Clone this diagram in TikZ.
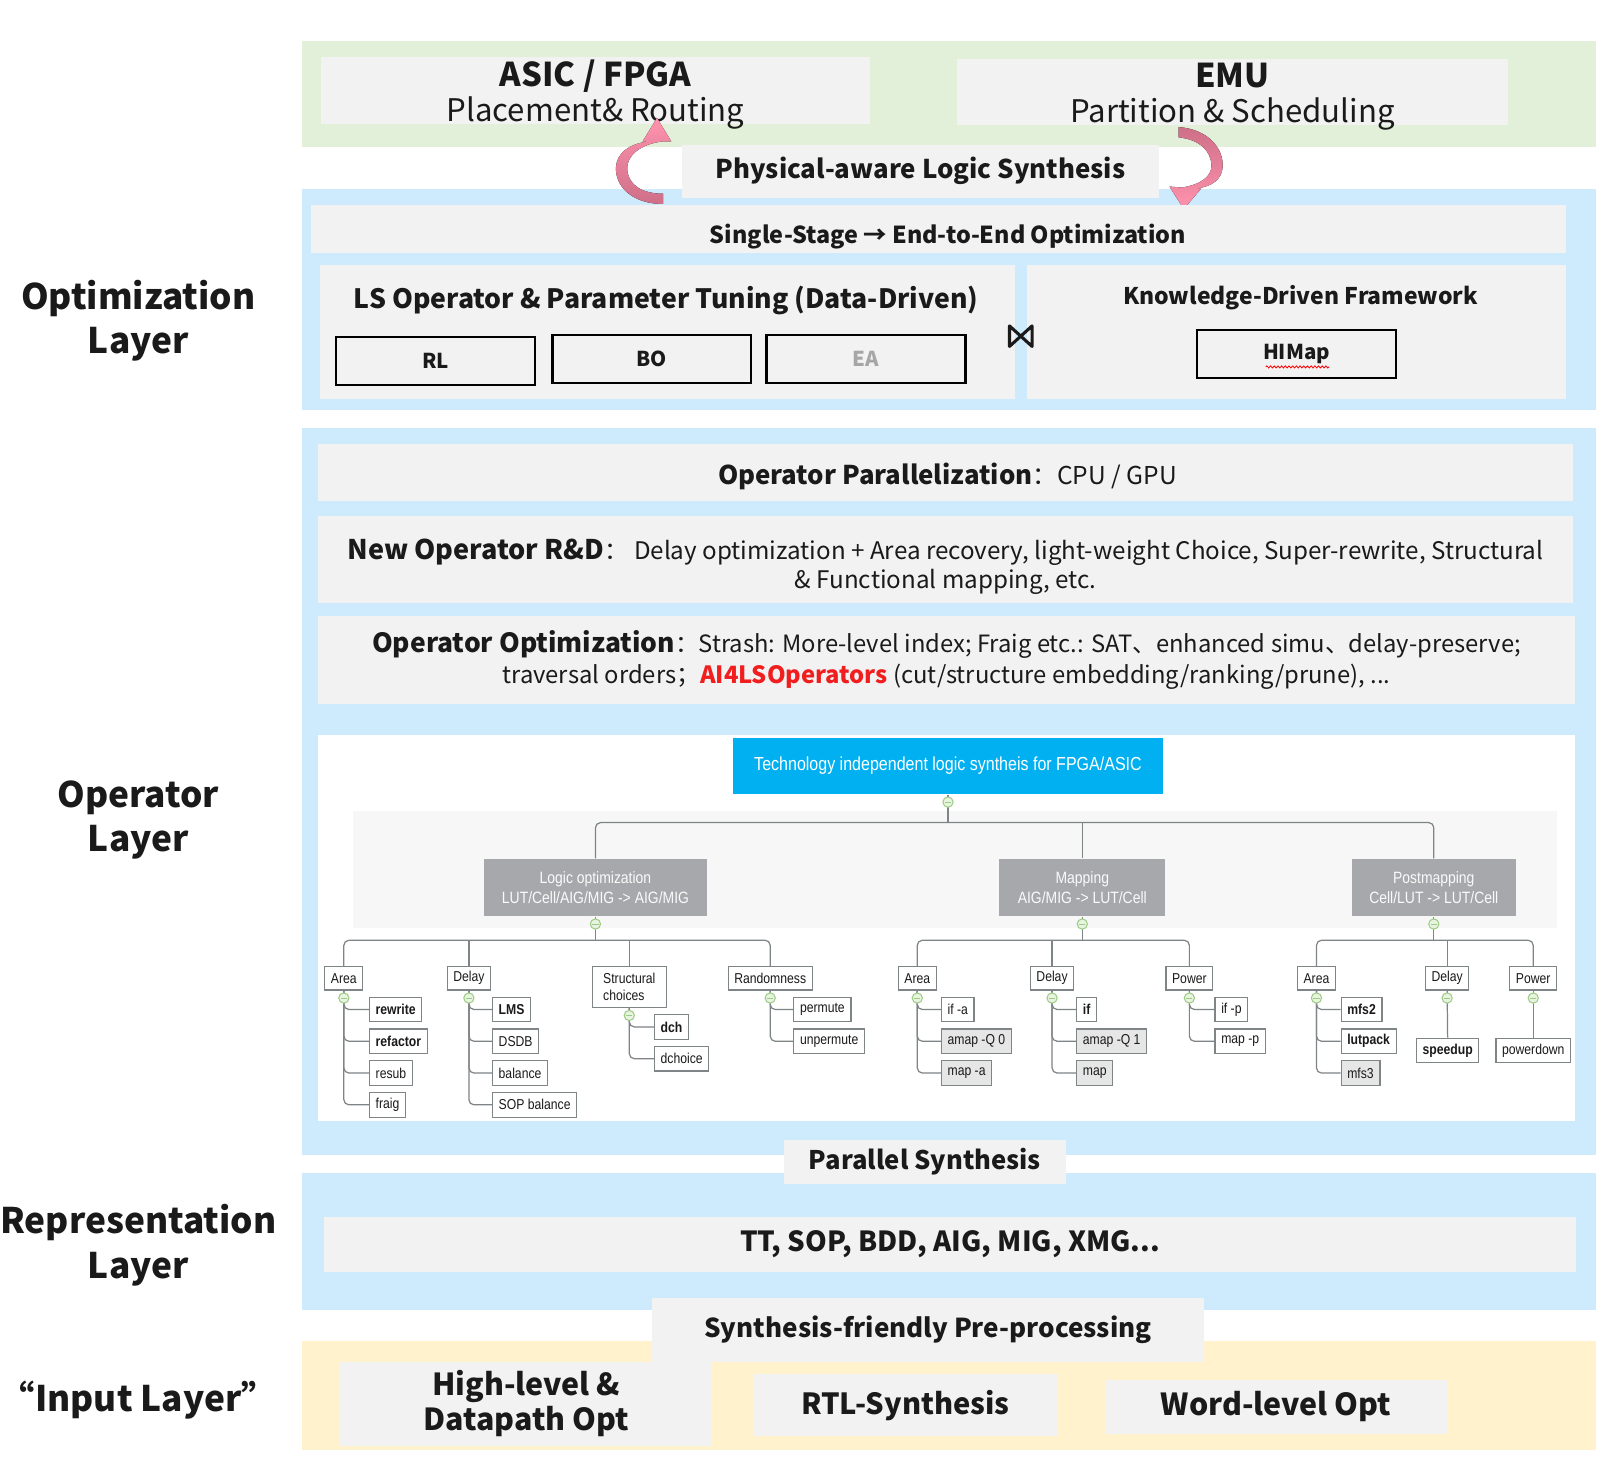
\documentclass[tikz,border=0pt]{standalone}
\usepackage{fontspec}
\setmainfont{Noto Sans CJK SC}
\newfontfamily\narrowfont{Liberation Sans}[FakeStretch=0.85]
\usepackage{xcolor}
\usepackage{tikz}
\usetikzlibrary{decorations.pathmorphing}

\definecolor{ink}{HTML}{1A1A1A}
\definecolor{boxgray}{HTML}{F2F2F2}
\definecolor{greenband}{HTML}{E2F0D9}
\definecolor{blueband}{HTML}{CDEBFC}
\definecolor{yellowband}{HTML}{FFF2CC}
\definecolor{rootblue}{HTML}{00B0F0}
\definecolor{midgray}{HTML}{A6A8AB}
\definecolor{treeband}{HTML}{F7F7F7}
\definecolor{linegray}{HTML}{7F8487}
\definecolor{leafgray}{HTML}{E6E6E6}
\definecolor{knobgreen}{HTML}{9CCB86}
\definecolor{knobfill}{HTML}{E8F4E0}
\definecolor{pinkdark}{HTML}{CF6F88}
\definecolor{pinklight}{HTML}{FF93AE}
\definecolor{aired}{HTML}{F01E1E}

\tikzset{
  every node/.style={text=ink},
  panel/.style={fill=boxgray, inner sep=0pt, align=center},
  algo/.style={draw=black, line width=1.1pt, fill=boxgray, inner sep=0pt, minimum width=97pt, minimum height=23.5pt, font=\fontsize{10pt}{12pt}\selectfont\bfseries},
  layerlabel/.style={align=center, font=\fontsize{17.2pt}{21.5pt}\selectfont\bfseries},
  treeroot/.style={fill=rootblue, text=white, inner sep=0pt, minimum width=210pt, minimum height=27.5pt, font=\narrowfont\fontsize{9.2pt}{10pt}\selectfont},
  treemid/.style={fill=midgray, text=white!96!gray, align=center, inner sep=0pt, minimum height=28pt, font=\narrowfont\fontsize{8pt}{9.6pt}\selectfont},
  cat/.style={draw=linegray, line width=0.6pt, fill=white, inner xsep=3pt, inner ysep=0pt, minimum height=11.5pt, font=\narrowfont\fontsize{7pt}{8.6pt}\selectfont},
  leaf/.style={cat, anchor=west, minimum height=12pt},
  leafb/.style={leaf, font=\narrowfont\bfseries\fontsize{7pt}{8.6pt}\selectfont},
  leafg/.style={leaf, fill=leafgray},
  conn/.style={draw=linegray, line width=0.6pt, rounded corners=2.5pt},
  knob/.style={circle, draw=knobgreen, fill=knobfill, line width=0.5pt, minimum size=5pt, inner sep=0pt,
    path picture={\draw[knobgreen, line width=0.5pt] ([xshift=-1.5pt]path picture bounding box.center) -- ([xshift=1.5pt]path picture bounding box.center);}},
}

\begin{document}
\begin{tikzpicture}[x=0.5pt,y=-0.5pt]
\useasboundingbox (0,0) rectangle (1568,1436);

% bands
\fill[greenband] (295,40) rectangle (1557,143);
\fill[blueband] (295,184) rectangle (1557,400);
\fill[blueband] (295,418) rectangle (1557,1127);
\fill[blueband] (295,1145) rectangle (1557,1278);
\fill[yellowband] (295,1308) rectangle (1557,1415);

% layer names
\node[layerlabel] (optlabel) at (135,313) {Optimization\\Layer};
\node[layerlabel] (oplabel) at (135,800) {Operator\\Layer};
\node[layerlabel] (replabel) at (135,1215) {Representation\\Layer};
\node[layerlabel] (inlabel) at (135,1366) {“Input Layer”};

% physical targets
\node[panel, minimum width=268pt, minimum height=32.5pt] (asic) at (581,88.5) {};
\node[align=center, font=\fontsize{15.2pt}{17pt}\selectfont] (asictext) at (581,92) {{\fontsize{16pt}{17pt}\selectfont\bfseries ASIC / FPGA}\\Placement\& Routing};
\node[panel, minimum width=268.5pt, minimum height=32pt] (emu) at (1202.5,90) {};
\node[align=center, font=\fontsize{15.2pt}{17pt}\selectfont] (emutext) at (1202.5,94) {{\fontsize{16pt}{17pt}\selectfont\bfseries EMU}\\Partition \& Scheduling};
\node[panel, minimum width=233pt, minimum height=26pt, font=\fontsize{12.6pt}{15pt}\selectfont\bfseries] (phys) at (898,167) {Physical-aware Logic Synthesis};

% curved arrows
\fill[top color=pinklight, bottom color=pinkdark]
  (647,199) .. controls (617,199) and (600,182) .. (601,163)
  .. controls (602,150) and (612,141) .. (632,138)
  -- (627,138) -- (641,115) -- (655,138) -- (646,138)
  .. controls (624,141) and (612,152) .. (612,164)
  .. controls (612,180) and (626,189) .. (647,189) -- cycle;
\fill[top color=pinkdark, bottom color=pinklight]
  (1150,124) .. controls (1178,126) and (1194,144) .. (1193,163)
  .. controls (1192,175) and (1183,182) .. (1167,184)
  -- (1172,184) -- (1155,204) -- (1141,182) -- (1153,183)
  .. controls (1172,180) and (1182,172) .. (1182,162)
  .. controls (1182,147) and (1170,136) .. (1150,134) -- cycle;

% optimization layer
\node[panel, minimum width=612.5pt, minimum height=23.5pt] (single) at (915.5,223.5) {};
\node[font=\fontsize{11.4pt}{14pt}\selectfont\bfseries] (singletext) at (925,231) {Single-Stage → End-to-End Optimization};
\node[panel, minimum width=339pt, minimum height=65pt] (ls) at (651,324) {};
\node[font=\fontsize{13pt}{16pt}\selectfont\bfseries] (lstitle) at (650,293) {LS Operator \& Parameter Tuning (Data-Driven)};
\node[algo] (rl) at (425,352.5) {RL};
\node[algo] (bo) at (636,350.5) {BO};
\node[algo, text=black!35] (ea) at (845,350.5) {EA};
\node[panel, minimum width=263pt, minimum height=65pt] (kd) at (1265,324) {};
\node[font=\fontsize{11.2pt}{14pt}\selectfont\bfseries] (kdtitle) at (1269,290) {Knowledge-Driven Framework};
\node[algo] (himap) at (1265,345.5) {HIMap};
\draw[red, line width=0.4pt, decorate, decoration={snake, amplitude=0.5pt, segment length=1.8pt}] (1235,358) -- (1297,358);
\draw[ink, line width=1.5pt, line join=round, line cap=round] (985,318) -- (985,338) -- (1007,318) -- (1007,338) -- cycle;

% operator layer
\node[panel, minimum width=612.5pt, minimum height=28pt] (par) at (922.5,461) {};
\node[font=\fontsize{12pt}{14pt}\selectfont] (partext) at (924.5,465)
  {{\fontsize{12.6pt}{14pt}\selectfont\bfseries Operator Parallelization}：CPU / GPU};
\node[panel, minimum width=612.5pt, minimum height=42.5pt] (newop) at (922.5,545.5) {};
\node[align=center, font=\fontsize{11.8pt}{14.5pt}\selectfont] (newoptext) at (922.5,553)
  {{\fontsize{13.2pt}{14.5pt}\selectfont\bfseries New Operator R\&D}：\ Delay optimization + Area recovery, light-weight Choice, Super-rewrite, Structural\\\& Functional mapping, etc.};
\node[panel, minimum width=613.5pt, minimum height=42.5pt, font=\fontsize{11.6pt}{15pt}\selectfont] (opopt) at (923.5,644)
  {{\fontsize{12.9pt}{15pt}\selectfont\bfseries Operator Optimization}：Strash: More-level index; Fraig etc.: SAT、enhanced simu、delay-preserve;\\traversal orders；{\bfseries\color{aired}AI4LSOperators} (cut/structure embedding/ranking/prune), ...};

% ABC operator tree
\fill[white] (310,717) rectangle (1537,1094);
\fill[treeband] (344,791) rectangle (1519,905);
\node[treeroot] (root) at (925,747.5) {Technology independent logic syntheis for FPGA/ASIC};
\node[treemid, minimum width=109pt] (logic) at (581,866) {Logic optimization\\LUT/Cell/AIG/MIG -> AIG/MIG};
\node[treemid, minimum width=81pt] (mapping) at (1056,866) {Mapping\\AIG/MIG -> LUT/Cell};
\node[treemid, minimum width=80pt] (postmap) at (1399,866) {Postmapping\\Cell/LUT -> LUT/Cell};

\node[cat] (area1) at (335.5,954.5) {Area};
\node[cat] (delay1) at (457.5,954.5) {Delay};
\node[cat, align=left, minimum height=20pt, minimum width=36pt] (struct) at (614,963) {Structural\\choices};
\node[cat] (random) at (751.5,954.5) {Randomness};
\node[cat] (area2) at (895,954.5) {Area};
\node[cat] (delay2) at (1026.5,954.5) {Delay};
\node[cat] (power2) at (1160.5,954.5) {Power};
\node[cat] (area3) at (1284.5,954.5) {Area};
\node[cat] (delay3) at (1412,954.5) {Delay};
\node[cat] (power3) at (1496,954.5) {Power};

\node[leafb] (rewrite) at (360,985) {rewrite};
\node[leafb] (refactor) at (360,1016) {refactor};
\node[leaf] (resub) at (360,1047) {resub};
\node[leaf] (fraig) at (360,1078) {fraig};
\node[leafb] (lms) at (480,985) {LMS};
\node[leaf] (dsdb) at (480,1016) {DSDB};
\node[leaf] (balance) at (480,1047) {balance};
\node[leaf] (sopbal) at (480,1078) {SOP balance};
\node[leafb] (dch) at (638,1002) {dch};
\node[leaf] (dchoice) at (638,1033) {dchoice};
\node[leaf] (permute) at (774,985) {permute};
\node[leaf] (unpermute) at (774,1016) {unpermute};
\node[leaf] (ifa) at (918,985) {if -a};
\node[leafg] (amapa) at (918,1016) {amap -Q 0};
\node[leafg] (mapa) at (918,1047) {map -a};
\node[leafb] (ifd) at (1050,985) {if};
\node[leafg] (amapd) at (1050,1016) {amap -Q 1};
\node[leafg] (mapd) at (1050,1047) {map};
\node[leaf] (ifp) at (1185,985) {if -p};
\node[leaf] (mapp) at (1185,1016) {map -p};
\node[leafb] (mfstwo) at (1308,985) {mfs2};
\node[leafb] (lutpack) at (1308,1016) {lutpack};
\node[leafg] (mfsthree) at (1308,1047) {mfs3};
\node[cat, font=\narrowfont\bfseries\fontsize{7pt}{8.6pt}\selectfont, minimum height=12pt] (speedup) at (1412.5,1025) {speedup};
\node[cat, minimum height=12pt] (powerdown) at (1496,1025) {powerdown};

\draw[conn] (logic.north) -- ++(0,-35) -| (postmap.north);
\draw[conn] (root.south) -- ++(0,28);
\draw[conn] (mapping.north) -- ++(0,-35);
\draw[conn] (area1.north) -- ++(0,-25) -| (random.north);
\draw[conn] (delay1.north) -- ++(0,-25);
\draw[conn] (struct.north) -- ++(0,-25);
\draw[conn] (logic.south) -- ++(0,24);
\draw[conn] (area2.north) -- ++(0,-25) -| (power2.north);
\draw[conn] (delay2.north) -- ++(0,-25);
\draw[conn] (mapping.south) -- ++(0,24);
\draw[conn] (area3.north) -- ++(0,-25) -| (power3.north);
\draw[conn] (delay3.north) -- ++(0,-25);
\draw[conn] (postmap.south) -- ++(0,24);
\foreach \p/\c in {area1/rewrite, area1/refactor, area1/resub, area1/fraig,
                   delay1/lms, delay1/dsdb, delay1/balance, delay1/sopbal,
                   struct/dch, struct/dchoice, random/permute, random/unpermute,
                   area2/ifa, area2/amapa, area2/mapa, delay2/ifd, delay2/amapd, delay2/mapd,
                   power2/ifp, power2/mapp, area3/mfstwo, area3/lutpack, area3/mfsthree}
  \draw[conn] (\p.south) |- (\c.west);
\draw[conn] (delay3.south) -- (speedup.north);
\draw[conn] (power3.south) -- (powerdown.north);
\foreach \n in {root,logic,mapping,postmap,area1,delay1,struct,random,area2,delay2,power2,area3,delay3,power3}
  \node[knob] (\n-k) at ([yshift=-3.6pt]\n.south) {};

% lower layers
\node[panel, minimum width=137.5pt, minimum height=21.5pt, font=\fontsize{12.5pt}{15pt}\selectfont\bfseries] (parsyn) at (902.5,1133.5) {Parallel Synthesis};
\node[panel, minimum width=611pt, minimum height=27pt, font=\fontsize{13.5pt}{16pt}\selectfont\bfseries] (tt) at (927,1214) {TT, SOP, BDD, AIG, MIG, XMG...};
\node[panel, minimum width=269.5pt, minimum height=31.5pt, font=\fontsize{12.7pt}{15pt}\selectfont\bfseries] (pre) at (905.5,1297.5) {Synthesis-friendly Pre-processing};
\node[panel, minimum width=181.5pt, minimum height=41pt, font=\fontsize{14.8pt}{17.5pt}\selectfont\bfseries] (high) at (513.5,1369.5) {High-level \&\\Datapath Opt};
\node[panel, minimum width=148.5pt, minimum height=30pt, font=\fontsize{14.2pt}{17pt}\selectfont\bfseries] (rtl) at (883.5,1371) {RTL-Synthesis};
\node[panel, minimum width=167pt, minimum height=26.5pt, font=\fontsize{14.8pt}{17pt}\selectfont\bfseries] (word) at (1245,1372.5) {Word-level Opt};
\end{tikzpicture}
\end{document}
